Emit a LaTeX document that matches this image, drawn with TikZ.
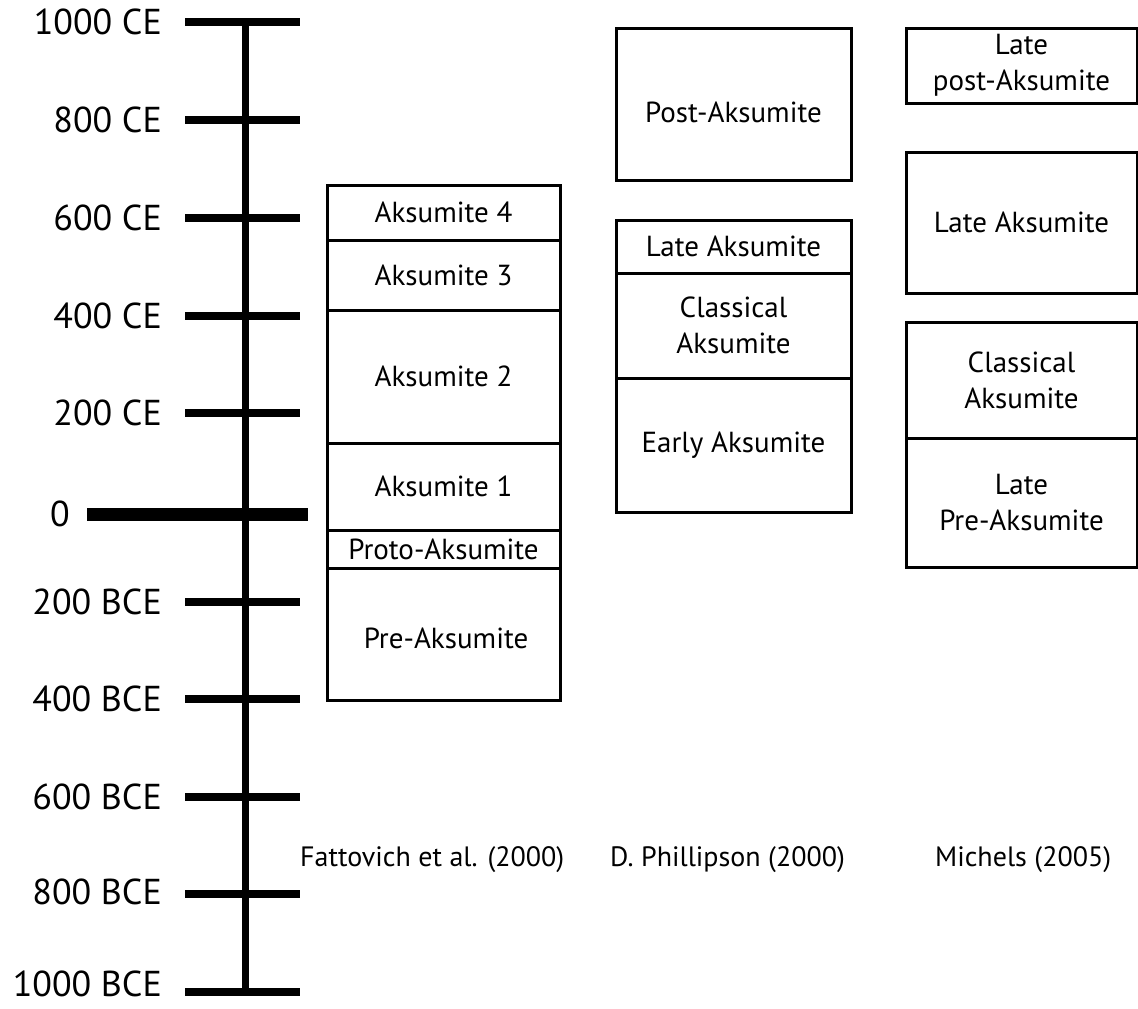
\documentclass[tikz,border=0pt]{standalone}
\usepackage{fontspec}
\setmainfont{PT Sans}
\begin{document}
\begin{tikzpicture}[x=1pt,y=-1pt,
  tickline/.style={line width=8pt},
  zeroline/.style={line width=13pt},
  axisline/.style={line width=7pt},
  ticklabel/.style={anchor=east,inner sep=0pt,font=\fontsize{36}{40}\selectfont},
  segbox/.style={draw,line width=3pt,inner sep=0pt,align=center,font=\fontsize{29}{36}\selectfont},
  segtext/.style={inner sep=0pt,align=center,font=\fontsize{29}{36}\selectfont},
  srclabel/.style={anchor=west,inner sep=0pt,font=\fontsize{28}{32}\selectfont}]
\useasboundingbox (0,0) rectangle (1138,1009);
\begin{scope}
\clip (0,0) rectangle (1138,1009);
% axis
\coordinate (top) at (245,18);
\coordinate (bot) at (245,996);
\draw[axisline] (top) -- (bot);
% ticks
\foreach \n/\y/\ly/\t in {t1/22/22/1000 CE, t2/120/120/800 CE, t3/218/218/600 CE, t4/316/316/400 CE, t5/413/413/200 CE,
  t7/602/602/200 BCE, t8/699/699/400 BCE, t9/797/797/600 BCE, t10/894/892/800 BCE, t11/992/984/1000 BCE}{
  \coordinate (\n a) at (185,\y);
  \coordinate (\n b) at (300,\y);
  \draw[tickline] (\n a) -- (\n b);
  \node[ticklabel] (\n l) at (162,\ly) {\t};
}
\coordinate (t6a) at (87,514);
\coordinate (t6b) at (308,514);
\draw[zeroline] (t6a) -- (t6b);
\node[ticklabel] (t6l) at (70,514) {0};
% Fattovich
\node[segbox,minimum width=233pt,minimum height=55pt] (fa4) at (443.5,212.5) {Aksumite 4};
\node[segbox,minimum width=233pt,minimum height=70pt] (fa3) at (443.5,275) {Aksumite 3};
\node[segbox,minimum width=233pt,minimum height=133pt] (fa2) at (443.5,376.5) {Aksumite 2};
\node[segbox,minimum width=233pt,minimum height=87pt] (fa1) at (443.5,486.5) {Aksumite 1};
\node[segbox,minimum width=233pt,minimum height=38pt] (fpro) at (443.5,549) {Proto-Aksumite};
\node[segbox,minimum width=233pt,minimum height=132pt] (fpre) at (443.5,634) {};
\node[segtext] (fpret) at (446,638) {Pre-Aksumite};
% Phillipson
\node[segbox,minimum width=235pt,minimum height=152pt] (ppost) at (733.5,104) {};
\node[segtext] (ppostt) at (733.5,112) {Post-Aksumite};
\node[segbox,minimum width=235pt,minimum height=53pt] (plate) at (733.5,246.5) {Late Aksumite};
\node[segbox,minimum width=235pt,minimum height=105pt] (pclass) at (733.5,325.5) {Classical\\Aksumite};
\node[segbox,minimum width=235pt,minimum height=134pt] (pearly) at (733.5,445) {Early Aksumite};
% Michels
\node[segbox,minimum width=231pt,minimum height=75pt] (mlpost) at (1021.5,65.5) {Late\\post-Aksumite};
\node[segbox,minimum width=231pt,minimum height=141pt] (mlate) at (1021.5,222.5) {Late Aksumite};
\node[segbox,minimum width=231pt,minimum height=116pt] (mclass) at (1021.5,380) {Classical\\Aksumite};
\node[segbox,minimum width=231pt,minimum height=129pt] (mlpre) at (1021.5,502.5) {Late\\Pre-Aksumite};
% sources
\node[srclabel] (sf) at (300,860) {Fattovich et al. (2000)};
\node[srclabel] (sp) at (610,860) {D. Phillipson (2000)};
\node[srclabel] (sm) at (935,860) {Michels (2005)};
\end{scope}
\end{tikzpicture}
\end{document}
